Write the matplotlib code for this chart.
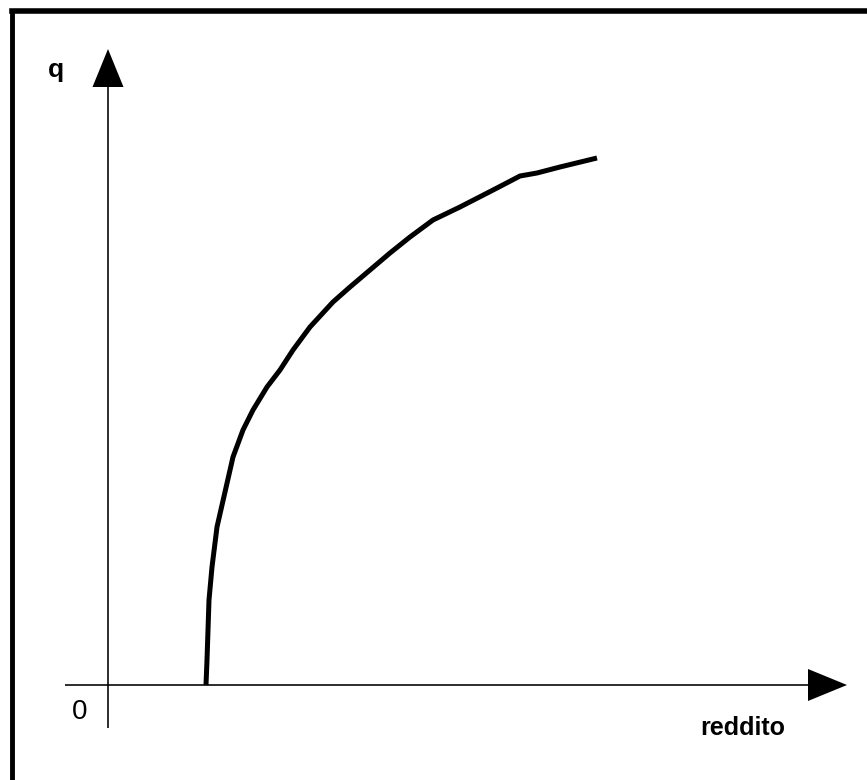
import matplotlib
matplotlib.use("Agg")
import matplotlib.pyplot as plt
from matplotlib.lines import Line2D

# Curve data (reddito, q) in arbitrary units
reddito = [98, 99, 101, 104, 109, 117, 125, 135, 145, 159, 172, 185, 202, 225,
           242, 262, 282, 302, 325, 352, 389, 412, 429, 452, 489]
q = [0, 25, 85, 118, 158, 193, 228, 255, 275, 298, 315, 335, 358, 383,
     398, 415, 432, 448, 465, 478, 497, 509, 512, 518, 527]

x_label = "reddito"
y_label = "q"
origin_label = "0"

fig = plt.figure(figsize=(8.67, 7.80), dpi=100)
ax = fig.add_axes([0, 0, 1, 1])
ax.set_xlim(-108, 759)
ax.set_ylim(-95, 685)
ax.axis("off")

# frame (top and left edges only)
fig.add_artist(Line2D([12 / 867, 1], [1 - 11 / 780, 1 - 11 / 780], transform=fig.transFigure,
                      color="black", lw=4, solid_capstyle="projecting"))
fig.add_artist(Line2D([12 / 867, 12 / 867], [0, 1 - 11 / 780], transform=fig.transFigure,
                      color="black", lw=3.5, solid_capstyle="projecting"))

# axes with arrow heads
ax.arrow(0, -43, 0, 679, width=1.6, head_width=31, head_length=38,
         length_includes_head=True, color="black", lw=0)
ax.arrow(-43, 0, 782, 0, width=1.6, head_width=32, head_length=39,
         length_includes_head=True, color="black", lw=0)

# curve
ax.plot(reddito, q, color="black", lw=3.6, solid_capstyle="butt", solid_joinstyle="round")

font = "Liberation Sans"
ax.text(-60, 608, y_label, ha="left", va="baseline", fontsize=19, fontweight="bold", family=font)
ax.text(-36, -34, origin_label, ha="left", va="baseline", fontsize=20, family=font)
ax.text(592, -50, x_label, ha="left", va="baseline", fontsize=18, fontweight="bold", family=font)

fig.savefig("out.png", dpi=100, facecolor="white")
